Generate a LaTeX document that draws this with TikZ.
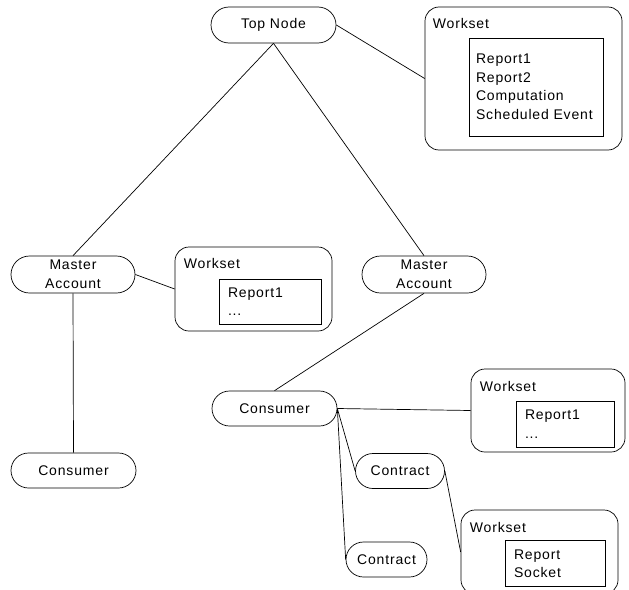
\documentclass[tikz,border=0pt]{standalone}
\usepackage{fontspec}
\setmainfont{Liberation Sans}[LetterSpace=6]
\usetikzlibrary{positioning, shapes.misc}

\begin{document}
\begin{tikzpicture}[
            x=1pt, y=-1pt, % pixel-like coordinates, y goes down
            pill_style/.style={rounded rectangle, draw, line width=0.7pt, inner sep=0pt, minimum height=36pt, align=center, font=\fontsize{14}{19}\selectfont},
            set_style/.style={rectangle, draw, line width=0.7pt, rounded corners=14pt, inner sep=0pt},
            list_style/.style={rectangle, draw, line width=0.7pt, inner ysep=0pt, inner xsep=9pt, align=left, font=\fontsize{14}{18.5}\selectfont},
            title_style/.style={inner sep=0pt, font=\fontsize{14}{17}\selectfont},
            edge_style/.style={line width=0.7pt}
        ]
        \useasboundingbox (0,0) rectangle (629,589);

        % Tree nodes
        \node[pill_style, minimum width=125pt] (top) at (273.5, 25) {Top Node};
        \node[pill_style, minimum width=124pt, minimum height=37pt] (ma1) at (73, 274.5) {Master\\Account};
        \node[pill_style, minimum width=124pt, minimum height=37pt] (ma2) at (424, 274.5) {Master\\Account};
        \node[pill_style, minimum width=125pt, minimum height=35pt] (con1) at (73.5, 470.5) {Consumer};
        \node[pill_style, minimum width=125pt, minimum height=35pt] (con2) at (274.5, 408.5) {Consumer};
        \node[pill_style, minimum width=89pt, minimum height=35pt] (ct1) at (400, 471) {Contract};
        \node[pill_style, minimum width=81pt, minimum height=35pt] (ct2) at (386.5, 559.5) {Contract};

        % Worksets (outer box, title, inner list)
        \node[set_style, minimum width=197pt, minimum height=143pt] (ws1) at (523.5, 78.5) {};
        \node[title_style, below right=12pt and 8pt of ws1.north west] (wt1) {Workset};
        \node[list_style, inner xsep=7pt, text width=120pt, minimum height=98pt] (in1) at (536, 87) {Report1\\Report2\\Computation\\Scheduled Event};

        \node[set_style, minimum width=157pt, minimum height=84pt] (ws2) at (253.5, 289) {};
        \node[title_style, below right=12pt and 9pt of ws2.north west] (wt2) {Workset};
        \node[list_style, text width=84pt, minimum height=45pt] (in2) at (270, 301.5) {Report1\\...};

        \node[set_style, minimum width=154pt, minimum height=83pt] (ws3) at (548, 410.5) {};
        \node[title_style, below right=13pt and 9pt of ws3.north west] (wt3) {Workset};
        \node[list_style, text width=80pt, minimum height=46pt] (in3) at (565, 424) {Report1\\...};

        \node[set_style, minimum width=157pt, minimum height=84pt] (ws4) at (539.5, 552) {};
        \node[title_style, below right=12pt and 9pt of ws4.north west] (wt4) {Workset};
        \node[list_style, text width=82pt, minimum height=46pt] (in4) at (555, 563.5) {Report\\Socket};

        % Edges
        \draw[edge_style] (top.east) -- (ws1.west);
        \foreach \v in {ma1, ma2} { \draw[edge_style] (top.south) -- (\v.north); }
        \draw[edge_style] (ma1.east) -- (ws2.west);
        \draw[edge_style] (ma1.south) -- (con1.north);
        \draw[edge_style] (ma2.south) -- (con2.north);
        \foreach \v in {ws3, ct1, ct2} { \draw[edge_style] (con2.east) -- (\v.west); }
        \draw[edge_style] (ct1.east) -- (ws4.west);

\end{tikzpicture}
\end{document}
